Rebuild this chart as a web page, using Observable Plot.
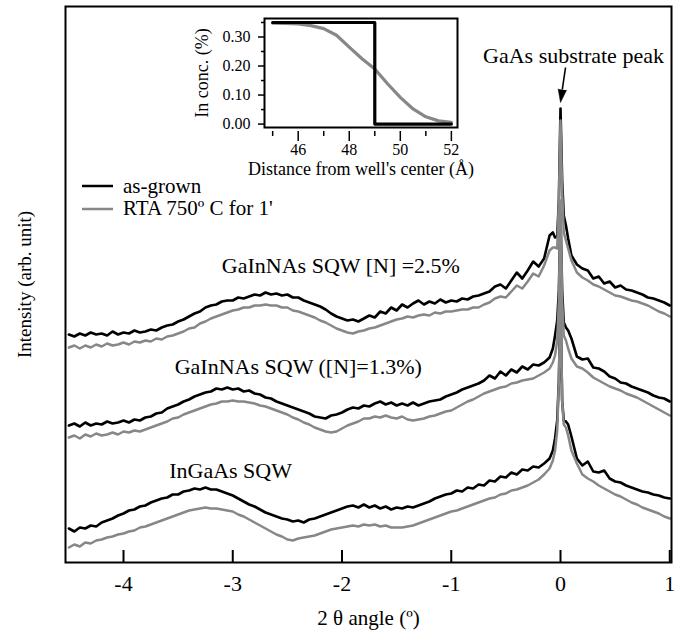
<!DOCTYPE html>
<html><head><meta charset="utf-8">
<script src="https://cdn.jsdelivr.net/npm/d3@7"></script>
<script src="https://cdn.jsdelivr.net/npm/@observablehq/plot@0.6"></script>
<style>
body{margin:0;background:#fff;}
#wrap{position:relative;width:678px;height:632px;font-family:"Liberation Serif",serif;}
#inset{position:absolute;left:170px;top:0px;}
#legend{position:absolute;left:82px;top:175px;font-size:21px;color:#000;}
.row{display:flex;align-items:center;height:22.5px;}
.row svg{margin-right:10px;}
</style></head><body>
<div id="wrap"><div id="main"></div><div id="inset"></div><div id="legend"></div></div>
<script>
// 2θ angle sampling (degrees)
const angles = [
-4.5,-4.45,-4.4,-4.35,-4.3,-4.25,-4.2,-4.15,-4.1,-4.05,
-4,-3.95,-3.9,-3.85,-3.8,-3.75,-3.7,-3.65,-3.6,-3.55,
-3.5,-3.45,-3.4,-3.35,-3.3,-3.25,-3.2,-3.15,-3.1,-3.05,
-3,-2.95,-2.9,-2.85,-2.8,-2.75,-2.7,-2.65,-2.6,-2.55,
-2.5,-2.45,-2.4,-2.35,-2.3,-2.25,-2.2,-2.15,-2.1,-2.05,
-2,-1.95,-1.9,-1.85,-1.8,-1.75,-1.7,-1.65,-1.6,-1.55,
-1.5,-1.45,-1.4,-1.35,-1.3,-1.25,-1.2,-1.15,-1.1,-1.05,
-1,-0.95,-0.9,-0.85,-0.8,-0.75,-0.7,-0.65,-0.6,-0.55,
-0.5,-0.45,-0.4,-0.35,-0.3,-0.25,-0.2,-0.15,-0.1,
-0.07,-0.05,-0.03,-0.015,0,0.015,0.03,0.05,0.07,0.1,
0.15,0.2,0.25,0.3,0.35,0.4,0.45,0.5,0.55,0.6,0.65,0.7,0.75,0.8,0.85,0.9,0.95,1];

// Intensities (arb. units, curves vertically offset as in the figure)
const gainnas25Grown = [
228,226,229,227,230,228,229,227,231,228,
230,229,232,230,231,233,232,235,237,238,
241,243,246,249,251,255,257,258,261,262,
262,265,264,266,268,267,270,268,269,267,
268,265,265,262,260,258,256,253,249,246,
244,242,243,241,244,247,245,251,249,255,
252,258,255,259,262,258,261,259,263,260,
262,261,264,263,266,267,269,271,276,278,
274,282,290,284,292,301,296,304,327,
330,325,326,362,454,382,347,337,324,307,
298,294,292,284,286,279,281,275,277,273,272,270,268,265,264,262,260,257];
const gainnas25Rta = [
215,217,214,217,215,218,216,219,217,218,
220,218,221,220,222,221,224,223,226,227,
229,231,234,235,239,241,244,246,248,250,
252,253,255,255,257,257,258,257,257,255,
255,252,251,249,247,245,242,240,237,234,
232,230,229,231,232,234,235,237,239,241,
243,244,246,245,247,248,247,250,249,251,
251,252,253,253,255,255,258,260,264,266,
265,271,277,274,281,289,286,297,312,
315,315,314,362,442,372,330,322,314,302,
290,285,282,278,276,273,270,267,266,264,262,261,259,257,254,251,249,246];
const gainnas13Grown = [
137,139,136,140,137,139,138,141,139,140,
142,140,143,142,145,146,149,150,154,156,
158,161,163,166,168,170,171,174,173,175,
173,174,171,172,169,168,165,164,161,159,
157,155,153,151,149,146,145,144,147,148,
150,153,155,154,157,156,159,161,158,160,
157,159,157,160,157,159,161,162,163,166,
168,170,173,175,177,179,182,187,184,191,
187,193,190,196,193,198,197,200,205,
214,227,242,272,347,272,240,235,232,224,
206,203,204,195,194,191,186,184,180,179,176,174,172,170,167,165,164,161];
const gainnas13Rta = [
125,127,124,128,126,129,127,128,130,128,
131,130,132,131,133,135,137,139,141,144,
145,148,150,152,154,156,158,159,161,161,
162,161,161,160,159,157,156,154,152,150,
148,145,143,140,138,135,133,131,130,131,
134,137,139,141,144,144,146,145,147,145,
144,146,143,142,143,144,146,147,149,151,
152,155,158,161,163,166,169,171,173,175,
176,179,180,182,183,184,187,190,194,
200,207,222,262,362,262,227,222,214,204,
196,194,190,185,182,179,176,174,172,169,167,165,162,159,156,153,150,147];
const ingaasGrown = [
34,31,35,34,37,36,40,42,44,47,
49,52,53,56,57,60,62,64,65,68,
68,71,72,74,73,75,73,73,71,69,
67,64,61,58,56,53,50,48,46,44,
43,41,42,40,43,44,46,48,50,52,
54,56,57,55,58,55,57,54,56,53,
55,54,56,55,57,59,61,64,66,68,
69,72,71,75,74,78,77,82,81,86,
85,90,88,93,92,96,95,99,104,
112,124,142,182,262,162,142,141,138,126,
104,97,101,91,90,92,84,81,80,77,75,73,71,70,68,67,65,64];
const ingaasRta = [
15,18,16,20,19,22,23,25,26,28,
29,31,32,35,36,38,40,42,44,46,
48,50,52,53,54,55,54,54,53,52,
51,48,46,43,40,37,34,31,28,26,
23,22,24,25,26,27,29,31,33,34,
35,36,37,36,38,37,38,36,37,35,
35,35,36,37,39,41,43,45,47,49,
51,52,54,56,58,60,62,64,65,68,
69,72,73,75,77,80,83,88,94,
102,112,132,182,272,162,138,135,127,112,
99,88,84,81,77,74,71,68,66,63,60,58,55,53,51,49,46,44];

const samples = ["GaInNAs SQW [N] =2.5%", "GaInNAs SQW ([N]=1.3%)", "InGaAs SQW"];
const treatments = ["as-grown", "RTA 750º C for 1'"];
const xTicks = [-4, -3, -2, -1, 0, 1];

// Inset: In concentration profile
const stepDistance = [45, 49, 49, 52];
const stepConc = [0.35, 0.35, 0, 0];
const rtaDistance = [45,45.5,46,46.5,47,47.5,48,48.5,49,49.5,50,50.5,51,51.5,52];
const rtaConc = [0.348,0.347,0.345,0.339,0.329,0.306,0.265,0.225,0.19,0.139,0.092,0.052,0.025,0.011,0.006];
const insetMajor = [46, 48, 50, 52];
const insetMinor = [45, 47, 49, 51];
const concMajor = [0, 0.1, 0.2, 0.3];
const concMinor = [0.05, 0.15, 0.25, 0.35];

const colors = ["#000000", "#878787"];
const curves = [
  {sample: samples[0], treatment: treatments[0], values: gainnas25Grown},
  {sample: samples[0], treatment: treatments[1], values: gainnas25Rta},
  {sample: samples[1], treatment: treatments[0], values: gainnas13Grown},
  {sample: samples[1], treatment: treatments[1], values: gainnas13Rta},
  {sample: samples[2], treatment: treatments[0], values: ingaasGrown},
  {sample: samples[2], treatment: treatments[1], values: ingaasRta}
];
const rows = curves.flatMap(c => angles.map((a, i) => ({angle: a, intensity: c.values[i], sample: c.sample, treatment: c.treatment})));

const main = Plot.plot({
  width: 678, height: 632,
  marginTop: 6, marginRight: 7, marginBottom: 70, marginLeft: 65,
  style: {fontFamily: "Liberation Serif", background: "#fff", color: "#000"},
  x: {domain: [-4.531, 1.016]},
  y: {domain: [0, 556], axis: null},
  marks: [
    Plot.line(rows.filter(d => d.treatment === treatments[0]), {x: "angle", y: "intensity", z: "sample", stroke: colors[0], strokeWidth: 2.6}),
    Plot.line(rows.filter(d => d.treatment === treatments[1]), {x: "angle", y: "intensity", z: "sample", stroke: colors[1], strokeWidth: 2.5}),
    Plot.ruleX(xTicks, {x: d => d, y1: 0, y2: 12, stroke: "#000", strokeWidth: 2}),
    Plot.axisX(xTicks, {tickSize: 0, tickPadding: 13, tickFormat: d => String(d), fontSize: 22, label: null}),
    Plot.text(["2 θ angle (º)"], {text: d => d, frameAnchor: "bottom", dy: 62, fontSize: 21}),
    Plot.text(["Intensity (arb. unit)"], {text: d => d, frameAnchor: "left", textAnchor: "middle", dx: -41, rotate: -90, fontSize: 19}),
    Plot.text([
      {label: samples[0], x: -2.01, y: 297},
      {label: samples[1], x: -2.40, y: 196},
      {label: samples[2], x: -3.02, y: 92}
    ], {x: "x", y: "y", text: "label", fontSize: 22}),
    Plot.text([{label: "GaAs substrate peak", x: 0.119, y: 507}], {x: "x", y: "y", text: "label", fontSize: 22}),
    Plot.link([{x1: 0.046, y1: 495, x2: 0.0165, y2: 473}], {x1: "x1", y1: "y1", x2: "x2", y2: "y2", stroke: "#000", strokeWidth: 1.6}),
    Plot.vector([{x: 0, y: 460}], {x: "x", y: "y", length: 13, rotate: 188, shape: "spike", r: 4.2, anchor: "end", fill: "#000", stroke: "#000", strokeWidth: 0.5}),
    Plot.frame({stroke: "#000", strokeWidth: 2})
  ]
});
document.getElementById("main").append(main);

const inset = Plot.plot({
  width: 320, height: 190,
  marginTop: 18, marginRight: 33, marginBottom: 63, marginLeft: 94,
  style: {fontFamily: "Liberation Serif", background: "transparent", color: "#000"},
  x: {domain: [44.68, 52.24]},
  y: {domain: [-0.0118, 0.3637]},
  marks: [
    Plot.line(rtaDistance.map((d, i) => ({d, c: rtaConc[i]})), {x: "d", y: "c", stroke: colors[1], strokeWidth: 3.2}),
    Plot.line(stepDistance.map((d, i) => ({d, c: stepConc[i]})), {x: "d", y: "c", stroke: colors[0], strokeWidth: 3.2}),
    Plot.frame({stroke: "#000", strokeWidth: 2}),
    Plot.axisY(concMajor, {tickSize: 6, tickPadding: 8, tickFormat: d3.format(".2f"), fontSize: 16, label: null, strokeWidth: 1.5}),
    Plot.axisY(concMinor, {tickSize: 3, tickFormat: () => "", label: null, strokeWidth: 1.5}),
    Plot.axisX(insetMajor, {tickSize: 10, tickPadding: 2, dy: 4, fontSize: 16, label: null, strokeWidth: 1.5}),
    Plot.axisX(insetMinor, {tickSize: 5, tickFormat: () => "", dy: 4, label: null, strokeWidth: 1.5}),
    Plot.text(["Distance from well's center (Å)"], {text: d => d, frameAnchor: "bottom", dy: 47, fontSize: 18}),
    Plot.text(["In conc. (%)"], {text: d => d, frameAnchor: "left", textAnchor: "middle", dx: -62, rotate: -90, fontSize: 18})
  ]
});
document.getElementById("inset").append(inset);

const legend = document.getElementById("legend");
treatments.forEach((t, i) => {
  const row = document.createElement("div");
  row.className = "row";
  row.innerHTML = `<svg width="31" height="4"><line x1="0" x2="31" y1="2" y2="2" stroke="${colors[i]}" stroke-width="2.5"/></svg>`;
  const span = document.createElement("span");
  span.textContent = t;
  row.append(span);
  legend.append(row);
});
</script>
</body></html>
